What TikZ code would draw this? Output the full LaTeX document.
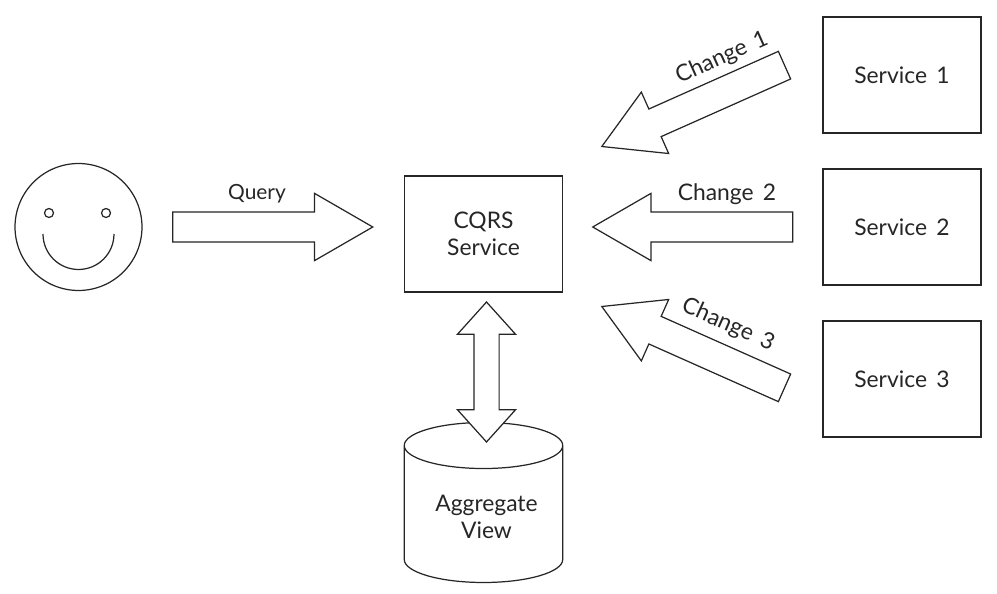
\documentclass[tikz,border=0pt]{standalone}
\usepackage{fontspec}
\setmainfont[WordSpace=1.6]{Lato}
\usetikzlibrary{shapes.arrows, shapes.geometric}

\begin{document}
\begin{tikzpicture}[x = 0.02cm, y = -0.02cm, line width = 0.7pt, color = black!85,
	boxnode/.style = {rectangle, draw, minimum width = 3.16cm, minimum height = 2.32cm, align = center, inner sep = 0},
	bigarrow/.style = {single arrow, draw, fill = white, minimum height = 4cm, inner xsep = 0, inner ysep = 0.29cm, single arrow head extend = 0.37cm, single arrow tip angle = 60, anchor = tip},
	dblarrow/.style = {double arrow, draw, fill = white, minimum height = 2.8cm, inner xsep = 0, inner ysep = 0.24cm, double arrow head extend = 0.33cm, double arrow tip angle = 84},
	lbl/.style = {inner sep = 0, align = center, font = \fontsize{13pt}{15.6pt}\selectfont, text = black!85}]

	\useasboundingbox (0, 0) rectangle (997, 594);

	% user
	\node (face)     at ( 78.5, 227) [circle, draw, minimum size = 2.54cm, inner sep = 0] {};
	\node (eyeL)     at ( 49,   213) [circle, draw, minimum size = 0.18cm, inner sep = 0] {};
	\node (eyeR)     at (106,   213) [circle, draw, minimum size = 0.18cm, inner sep = 0] {};
	\coordinate (smileL) at ( 43, 234);
	\draw (smileL) arc [start angle = 180, end angle = 360, radius = 0.71cm];

	% boxes
	\node (cqrs) at (483.5, 234) [boxnode, lbl] {CQRS\\Service};
	\foreach \name/\ypos/\txt in {svcA/75/Service 1, svcB/227/Service 2, svcC/379/Service 3}
		\node (\name) at (902, \ypos) [boxnode, lbl] {\txt};

	% database
	\node (view) at (483.5, 525) [cylinder, draw, shape border rotate = 90, aspect = 0.46, minimum width = 3.17cm, minimum height = 3.2cm, inner sep = 1cm] {};
	\node (viewLbl) at (486.5, 517) [lbl] {Aggregate\\View};
	\node (viewArrow) at (486.5, 372) [dblarrow, rotate = 90] {};

	% arrows
	\node (queryArrow) at (374, 227) [bigarrow] {};
	\foreach \name/\xpos/\ypos/\rot in {chgA/600.7/147/204, chgB/591.5/227/180, chgC/600.7/306/156}
		\node (\name) at (\xpos, \ypos) [bigarrow, rotate = \rot] {};

	% labels
	\node (queryLbl) at (257, 194) [lbl, font = \fontsize{11.9pt}{14pt}\selectfont] {Query};
	\node (chgALbl)  at (722,  58) [lbl, rotate = 24] {Change 1};
	\node (chgBLbl)  at (727, 194) [lbl] {Change 2};
	\node (chgCLbl)  at (728, 325) [lbl, rotate = -24] {Change 3};

\end{tikzpicture}
\end{document}
